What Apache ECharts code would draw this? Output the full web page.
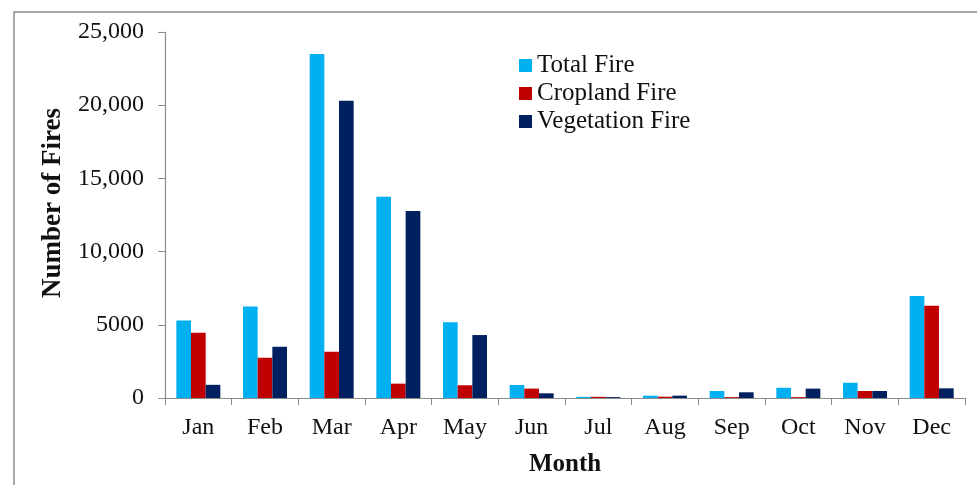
<!DOCTYPE html>
<html><head><meta charset="utf-8">
<script src="https://cdn.jsdelivr.net/npm/echarts@6/dist/echarts.min.js"></script>
<style>html,body{margin:0;padding:0;background:#fff}#c{width:977px;height:485px}</style>
</head><body><div id="c"></div>
<script>
const months = ['Jan','Feb','Mar','Apr','May','Jun','Jul','Aug','Sep','Oct','Nov','Dec'];
const totalFire = [5300, 6250, 23500, 13750, 5170, 890, 80, 160, 480, 700, 1040, 6970];
const croplandFire = [4450, 2750, 3160, 980, 870, 640, 80, 90, 60, 60, 480, 6300];
const vegetationFire = [900, 3500, 20300, 12770, 4300, 320, 60, 160, 390, 640, 480, 660];
const yTickLabels = {0:'0',5000:'5000',10000:'10,000',15000:'15,000',20000:'20,000',25000:'25,000'};

const font = '"Liberation Serif","Times New Roman",serif';
const chart = echarts.init(document.getElementById('c'));
chart.setOption({
  animation:false,
  textStyle:{fontFamily:font},
  graphic:[{type:'rect',shape:{x:14,y:12,width:1000,height:600},style:{fill:'none',stroke:'#8c8c8c',lineWidth:1.5},silent:true,z:-1}],
  legend:{
    orient:'vertical', left:519, top:53, padding:0, itemWidth:13, itemHeight:13, itemGap:3,
    icon:'rect',
    textStyle:{fontFamily:font,fontSize:25,color:'#111',lineHeight:25},
    data:['Total Fire','Cropland Fire','Vegetation Fire']
  },
  grid:{left:165,top:32,right:12,bottom:87},
  xAxis:{
    type:'category', data:months, name:'Month', nameLocation:'middle', nameGap:54,
    nameTextStyle:{fontFamily:font,fontSize:25,fontWeight:'bold',color:'#111'},
    axisLine:{lineStyle:{color:'#8c8c8c',width:1.2}},
    axisTick:{show:true,length:7,lineStyle:{color:'#8c8c8c'}},
    axisLabel:{fontFamily:font,fontSize:24,color:'#111',margin:18}
  },
  yAxis:{
    type:'value', min:0, max:25000, interval:5000,
    name:'Number of Fires', nameLocation:'middle', nameGap:98,
    nameTextStyle:{fontFamily:font,fontSize:27,fontWeight:'bold',color:'#111',padding:[0,0,0,24]},
    axisLine:{show:true,lineStyle:{color:'#8c8c8c',width:1.2}},
    axisTick:{show:true,length:7,lineStyle:{color:'#8c8c8c'}},
    splitLine:{show:false},
    axisLabel:{fontFamily:font,fontSize:24,color:'#111',margin:21,formatter:v=>yTickLabels[v]}
  },
  series:[
    {name:'Total Fire',type:'bar',data:totalFire,itemStyle:{color:'#00B0F0'},barGap:'0%',barCategoryGap:'34%'},
    {name:'Cropland Fire',type:'bar',data:croplandFire,itemStyle:{color:'#C00000'}},
    {name:'Vegetation Fire',type:'bar',data:vegetationFire,itemStyle:{color:'#002060'}}
  ]
});
</script></body></html>
